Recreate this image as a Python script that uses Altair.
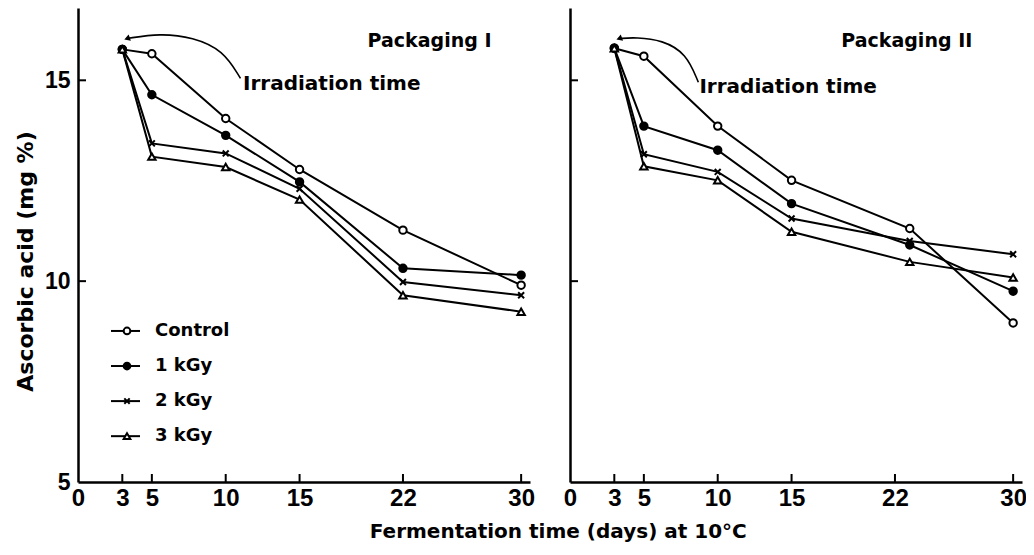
import altair as alt
import pandas as pd

# ---------------- data ----------------
series = ["Control", "1 kGy", "2 kGy", "3 kGy"]

days_p1 = [3, 5, 10, 15, 22, 30]
days_p2 = [3, 5, 10, 15, 23, 30]

p1_control = [15.77, 15.66, 14.05, 12.78, 11.27, 9.90]
p1_1kgy = [15.77, 14.64, 13.63, 12.47, 10.32, 10.15]
p1_2kgy = [15.77, 13.43, 13.18, 12.30, 9.98, 9.65]
p1_3kgy = [15.77, 13.10, 12.84, 12.03, 9.65, 9.24]

p2_control = [15.80, 15.60, 13.86, 12.51, 11.31, 8.96]
p2_1kgy = [15.80, 13.86, 13.26, 11.93, 10.90, 9.75]
p2_2kgy = [15.80, 13.16, 12.72, 11.56, 11.00, 10.67]
p2_3kgy = [15.80, 12.86, 12.51, 11.23, 10.48, 10.09]

x_ticks = [0, 3, 5, 10, 15, 22, 30]
y_ticks = [5, 10, 15]

panel_titles = ["Packaging I", "Packaging II"]
annot_text = "Irradiation time"
x_title = "Fermentation time (days) at 10°C"
y_title = "Ascorbic acid (mg %)"

FONT = "DejaVu Sans"
NUM_FONT = "Liberation Sans"
W, H = 452, 474
X_PATH = "M-0.8,-0.8L0.8,0.8M-0.8,0.8L0.8,-0.8"

xscale = alt.Scale(domain=[0, 30.6], nice=False, zero=False)
yscale = alt.Scale(domain=[5, 16.8], nice=False, zero=False)
shape_scale = alt.Scale(domain=series, range=["circle", "circle", X_PATH, "triangle-up"])
fill_scale = alt.Scale(domain=series, range=["white", "black", "black", "white"])


def long_df(days, cols):
    rows = []
    for s, vals in zip(series, cols):
        for d, v in zip(days, vals):
            rows.append({"series": s, "day": d, "value": v})
    return pd.DataFrame(rows)


def panel(df, left, title, title_x, irr_x, irr_y, arrow_x, arrow_y, legend):
    if left:
        yaxis = alt.Axis(values=y_ticks, title=y_title, ticks=False, labelPadding=8,
                         labelFont=NUM_FONT, labelFontSize=23, titleFontSize=22,
                         titleX=-53, titleY=253, titleBaseline="middle",
                         grid=False, domainWidth=2.5, domainColor="black")
    else:
        yaxis = alt.Axis(values=y_ticks, title=None, labels=False, ticks=False,
                         grid=False, domainWidth=2.5, domainColor="black")
    xaxis = alt.Axis(values=x_ticks, title=None, ticks=False, labelPadding=4,
                     labelFont=NUM_FONT, labelFontSize=24, grid=False, domainWidth=2.5,
                     domainColor="black", labelFlush=False)

    def X(f):
        return alt.X(f, scale=xscale, axis=xaxis)

    def Y(f):
        return alt.Y(f, scale=yscale, axis=yaxis)

    lines = alt.Chart(df).mark_line(color="black", strokeWidth=2).encode(
        x=X("day:Q"), y=Y("value:Q"), detail="series:N", order="day:Q")

    pts = alt.Chart(df).mark_point(size=55, strokeWidth=2, stroke="black", opacity=1).encode(
        x=X("day:Q"), y=Y("value:Q"),
        shape=alt.Shape("series:N", scale=shape_scale, legend=None),
        fill=alt.Fill("series:N", scale=fill_scale, legend=None))

    xt = alt.Chart(pd.DataFrame({"t": x_ticks[1:]})).mark_rule(
        color="black", strokeWidth=2).encode(
        x=X("t:Q"), y=alt.value(H), y2=alt.value(H - 8))
    yt = alt.Chart(pd.DataFrame({"t": y_ticks[1:]})).mark_rule(
        color="black", strokeWidth=2).encode(
        y=Y("t:Q"), x=alt.value(0), x2=alt.value(8))

    ptitle = alt.Chart(pd.DataFrame({"t": [title], "x": [title_x], "y": [15.99]})).mark_text(
        font=FONT, fontSize=19, fontWeight="bold", align="center", baseline="middle",
        color="black").encode(x=X("x:Q"), y=Y("y:Q"), text="t:N")

    irr = alt.Chart(pd.DataFrame({"t": [annot_text], "x": [irr_x], "y": [irr_y]})).mark_text(
        font=FONT, fontSize=20, fontWeight="bold", align="left", baseline="middle",
        color="black").encode(x=X("x:Q"), y=Y("y:Q"), text="t:N")

    adf = pd.DataFrame({"x": arrow_x, "y": arrow_y, "o": list(range(len(arrow_x)))})
    arrow = alt.Chart(adf).mark_line(color="black", strokeWidth=1.6, interpolate="basis").encode(
        x=X("x:Q"), y=Y("y:Q"), order="o:Q")
    head = alt.Chart(adf.tail(1)).mark_point(shape="triangle-left", filled=True, size=45,
                                             color="black", opacity=1, angle=340).encode(
        x=X("x:Q"), y=Y("y:Q"))

    layers = [lines, pts, xt, yt, ptitle, irr, arrow, head]

    if legend:
        ldf = pd.DataFrame({"series": series,
                            "ly": [8.76 - 0.873 * i for i in range(len(series))]})
        lrule = alt.Chart(ldf).mark_rule(color="black", strokeWidth=2).encode(
            y=Y("ly:Q"), x=alt.value(33), x2=alt.value(62))
        lpt = alt.Chart(ldf).mark_point(size=45, strokeWidth=2, stroke="black", opacity=1).encode(
            y=Y("ly:Q"), x=alt.value(49),
            shape=alt.Shape("series:N", scale=shape_scale, legend=None),
            fill=alt.Fill("series:N", scale=fill_scale, legend=None))
        ltxt = alt.Chart(ldf).mark_text(font=FONT, fontSize=18, fontWeight="bold",
                                        align="left", baseline="middle", color="black").encode(
            y=Y("ly:Q"), x=alt.value(77), text="series:N")
        layers += [lrule, lpt, ltxt]

    return alt.layer(*layers).properties(width=W, height=H)


df1 = long_df(days_p1, [p1_control, p1_1kgy, p1_2kgy, p1_3kgy])
df2 = long_df(days_p2, [p2_control, p2_1kgy, p2_2kgy, p2_3kgy])

left = panel(df1, True, panel_titles[0], 23.8, 11.17, 14.9,
             [11.0, 9.82, 7.79, 5.55, 3.32], [15.05, 15.75, 16.07, 16.17, 16.04], True)
right = panel(df2, False, panel_titles[1], 22.8, 8.76, 14.83,
              [8.69, 7.88, 6.25, 4.48, 3.33], [14.95, 15.67, 16.0, 16.07, 16.04], False)

chart = alt.hconcat(left, right, spacing=28).properties(
    title=alt.TitleParams(x_title, orient="bottom", anchor="middle", fontSize=20,
                          fontWeight="bold", font=FONT, dx=38, offset=12, color="black"),
    padding={"left": 6, "top": 0, "right": -1, "bottom": 0},
).configure_view(stroke=None).configure_axis(
    labelFont=FONT, titleFont=FONT, labelFontWeight="bold", titleFontWeight="bold",
    labelColor="black", titleColor="black")

chart.save("out.html", embed_options={"renderer": "svg", "actions": False})
